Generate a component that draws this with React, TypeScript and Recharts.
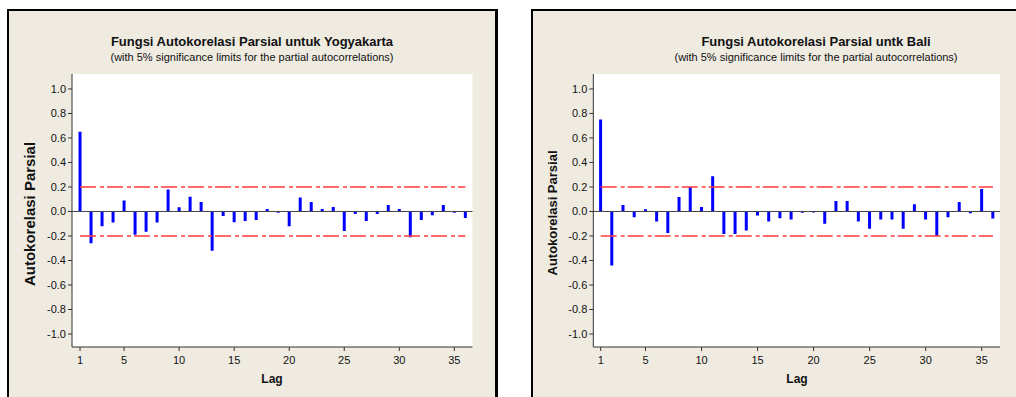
import React from "react";
import {
  Bar,
  CartesianGrid,
  ComposedChart,
  ReferenceLine,
  XAxis,
  YAxis
} from "recharts";

const FONT = '"Liberation Sans", Arial, sans-serif';

// lag numbers shown on both plots
const LAGS = [
  1, 2, 3, 4, 5, 6, 7, 8, 9, 10, 11, 12, 13, 14, 15, 16, 17, 18,
  19, 20, 21, 22, 23, 24, 25, 26, 27, 28, 29, 30, 31, 32, 33, 34, 35, 36
];

// partial autocorrelations
const YOGYA_PACF = [
  0.65, -0.26, -0.12, -0.09, 0.09, -0.19, -0.165, -0.09, 0.18, 0.034, 0.12, 0.078,
  -0.32, -0.037, -0.088, -0.078, -0.07, 0.02, -0.01, -0.12, 0.115, 0.078, 0.02, 0.037,
  -0.16, -0.02, -0.078, -0.02, 0.053, 0.02, -0.21, -0.07, -0.03, 0.053, -0.01, -0.053
];

const BALI_PACF = [
  0.75, -0.44, 0.052, -0.047, 0.019, -0.082, -0.175, 0.118, 0.2, 0.036, 0.288, -0.184,
  -0.184, -0.156, -0.033, -0.082, -0.055, -0.066, -0.01, -0.008, -0.1, 0.085, 0.085, -0.082,
  -0.14, -0.066, -0.066, -0.14, 0.058, -0.066, -0.2, -0.047, 0.077, -0.014, 0.184, -0.058
];

const X_TICKS = [1, 5, 10, 15, 20, 25, 30, 35];
const Y_TICKS = [-1, -0.8, -0.6, -0.4, -0.2, 0, 0.2, 0.4, 0.6, 0.8, 1];
const SIG_LIMIT = 0.2; // 5% significance limit
const Y_DOMAIN: [number, number] = [-1.106, 1.122];

const PANEL_BG = "#EFEBE1";

type PanelProps = {
  values: number[];
  left: number;
  width: number;
  marginLeft: number;
  marginRight: number;
  xDomain: [number, number];
};

function PacfChart({ values, left, width, marginLeft, marginRight, xDomain }: PanelProps) {
  const data = LAGS.map((lag, i) => ({ lag, value: values[i] }));
  const firstLag = LAGS[0];
  const lastLag = LAGS[LAGS.length - 1];
  return (
    <div style={{ position: "absolute", left, top: 0 }}>
      <ComposedChart
        width={width}
        height={397}
        data={data}
        margin={{ top: 74, right: marginRight, bottom: 20, left: marginLeft }}
      >
        <CartesianGrid fill="#ffffff" horizontal={false} vertical={false} />
        <XAxis
          dataKey="lag"
          type="number"
          domain={xDomain}
          ticks={X_TICKS}
          allowDataOverflow
          height={30}
          tickSize={4}
          tickMargin={5}
          stroke="#333"
          tick={{ fill: "#111", fontSize: 11, fontFamily: FONT }}
        />
        <XAxis
          xAxisId="top"
          orientation="top"
          type="number"
          domain={[0, 1]}
          height={0}
          tick={false}
          tickLine={false}
          axisLine={{ stroke: "#666", strokeWidth: 1.5 }}
        />
        <YAxis
          type="number"
          domain={Y_DOMAIN}
          ticks={Y_TICKS}
          allowDataOverflow
          width={40}
          tickSize={4}
          tickMargin={2}
          stroke="#333"
          tickFormatter={(v: number) => v.toFixed(1)}
          tick={{ fill: "#111", fontSize: 11, fontFamily: FONT }}
        />
        <YAxis
          yAxisId="r"
          orientation="right"
          type="number"
          domain={[0, 1]}
          width={0}
          tick={false}
          tickLine={false}
          axisLine={{ stroke: "#666", strokeWidth: 2 }}
        />
        <ReferenceLine y={0} stroke="#444" strokeWidth={1} />
        <ReferenceLine
          segment={[{ x: firstLag, y: SIG_LIMIT }, { x: lastLag, y: SIG_LIMIT }]}
          stroke="#ff3b3b"
          strokeWidth={1.6}
          strokeDasharray="16 4 4 3"
        />
        <ReferenceLine
          segment={[{ x: firstLag, y: -SIG_LIMIT }, { x: lastLag, y: -SIG_LIMIT }]}
          stroke="#ff3b3b"
          strokeWidth={1.6}
          strokeDasharray="16 4 4 3"
        />
        <Bar dataKey="value" fill="#0000ff" barSize={3} isAnimationActive={false} />
      </ComposedChart>
    </div>
  );
}

export default function App() {
  return (
    <div
      style={{
        position: "absolute",
        left: 0,
        top: 0,
        width: 1016,
        height: 397,
        overflow: "hidden",
        background: "#ffffff",
        fontFamily: FONT
      }}
    >
      {/* panel frames */}
      <div
        style={{
          position: "absolute",
          left: 7,
          top: 9,
          width: 486,
          height: 400,
          background: PANEL_BG,
          borderLeft: "2px solid #000",
          borderTop: "2px solid #000",
          borderRight: "3px solid #000"
        }}
      />
      <div
        style={{
          position: "absolute",
          left: 531,
          top: 9,
          width: 500,
          height: 400,
          background: PANEL_BG,
          borderLeft: "2px solid #000",
          borderTop: "2px solid #000"
        }}
      />

      <PacfChart
        values={YOGYA_PACF}
        left={0}
        width={500}
        marginLeft={32}
        marginRight={27.5}
        xDomain={[0.27, 36.65]}
      />
      <PacfChart
        values={BALI_PACF}
        left={500}
        width={516}
        marginLeft={53.3}
        marginRight={16}
        xDomain={[0.34, 36.63]}
      />

      {/* titles and axis labels */}
      <svg
        width={1016}
        height={397}
        style={{ position: "absolute", left: 0, top: 0, pointerEvents: "none" }}
        fontFamily={FONT}
      >
        <text x={252} y={46} textAnchor="middle" fontSize={13} fontWeight="bold" fill="#111">
          Fungsi Autokorelasi Parsial untuk Yogyakarta
        </text>
        <text x={252} y={61} textAnchor="middle" fontSize={11} fill="#111">
          (with 5% significance limits for the partial autocorrelations)
        </text>
        <text x={816} y={46} textAnchor="middle" fontSize={13} fontWeight="bold" fill="#111">
          Fungsi Autokorelasi Parsial untk Bali
        </text>
        <text x={816} y={61} textAnchor="middle" fontSize={11} fill="#111">
          (with 5% significance limits for the partial autocorrelations)
        </text>

        <text
          transform="translate(35,214) rotate(-90)"
          textAnchor="middle"
          fontSize={15}
          fontWeight="bold"
          fill="#111"
        >
          Autokorelasi Parsial
        </text>
        <text
          transform="translate(557,213) rotate(-90)"
          textAnchor="middle"
          fontSize={13}
          fontWeight="bold"
          fill="#111"
        >
          Autokorelasi Parsial
        </text>

        <text x={272} y={383} textAnchor="middle" fontSize={12} fontWeight="bold" fill="#111">
          Lag
        </text>
        <text x={797} y={383} textAnchor="middle" fontSize={12} fontWeight="bold" fill="#111">
          Lag
        </text>
      </svg>
    </div>
  );
}
